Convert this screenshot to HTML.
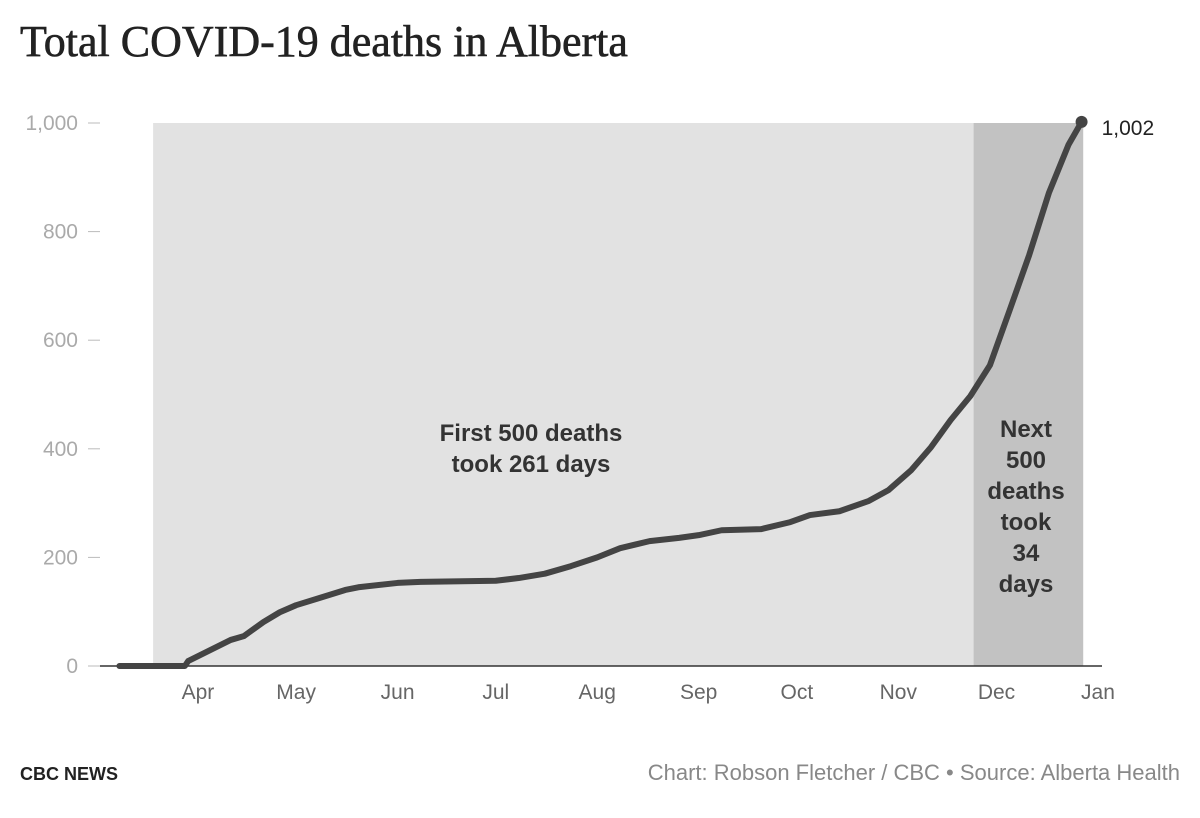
<!DOCTYPE html>
<html><head><meta charset="utf-8"><style>
body{margin:0;background:#fff;width:1200px;height:813px;overflow:hidden;font-family:"Liberation Sans",sans-serif}
</style></head><body>
<svg width="1200" height="813">
<text x="20" y="56" font-family="Liberation Serif, serif" font-size="44" fill="#222" stroke="#222" stroke-width="0.6">Total COVID-19 deaths in Alberta</text>
<g id="plot"></g>
<text x="20" y="780" font-size="18" font-weight="bold" fill="#222">CBC NEWS</text>
<text x="1180" y="780" font-size="22" fill="#888" text-anchor="end">Chart: Robson Fletcher / CBC • Source: Alberta Health</text>
</svg>
<script>
const days=[7,27,28,35,41,45,51,56,61,68,76,80,92,99,122,129,137,145,153,160,169,178,184,191,203,212,218,227,236,242,249,255,261,267,273,279,285,291,297,301];
const deaths=[0,0,9,30,48,55,81,99,112,125,140,145,153,155,157,162,170,184,200,217,230,236,241,250,252,265,278,285,304,324,361,403,453,497,554,655,757,871,960,1002];
const yTicks=[0,200,400,600,800,1000];
const yTickLabels=["0","200","400","600","800","1,000"];
const monthDays=[31,61,92,122,153,184,214,245,275,306];
const monthLabels=["Apr","May","Jun","Jul","Aug","Sep","Oct","Nov","Dec","Jan"];
const shadeFirst=[17.3,268];
const shadeNext=[268,301.5];
const NS="http://www.w3.org/2000/svg";
const xs=d=>96.5+d*3.2727;
const ys=v=>666-v*0.543;
const g=document.getElementById('plot');
function mk(t,a){const e=document.createElementNS(NS,t);for(const k in a)e.setAttribute(k,a[k]);g.appendChild(e);return e;}
let r=mk('rect',{x:xs(shadeFirst[0]),y:ys(1000),width:xs(shadeFirst[1])-xs(shadeFirst[0]),height:ys(0)-ys(1000),fill:'#e2e2e2'});


r=mk('rect',{x:xs(shadeNext[0]),y:ys(1000),width:xs(shadeNext[1])-xs(shadeNext[0]),height:ys(0)-ys(1000),fill:'#c2c2c2'});


yTicks.forEach((v,i)=>{
 const t=mk('text',{x:78,y:ys(v)+7,'font-size':21,fill:'#aaa','text-anchor':'end'});t.textContent=yTickLabels[i];
 
 
 const l=mk('line',{x1:88,x2:100,y1:ys(v),y2:ys(v),stroke:'#bbb','stroke-width':1});
 
 
});
monthDays.forEach((d,i)=>{
 const t=mk('text',{x:xs(d),y:699,'font-size':21,fill:'#666','text-anchor':'middle'});t.textContent=monthLabels[i];
 
 
});
const ax=mk('line',{x1:100,x2:1102,y1:666,y2:666,stroke:'#333','stroke-width':1.5});


const p=mk('path',{d:days.map((d,i)=>(i?'L':'M')+xs(d)+','+ys(deaths[i])).join(''),fill:'none',stroke:'#444','stroke-width':6,'stroke-linejoin':'round','stroke-linecap':'round'});


const n=days.length-1;
const c=mk('circle',{cx:xs(days[n]),cy:ys(deaths[n]),r:6,fill:'#444'});


const el=mk('text',{x:xs(days[n])+20,y:ys(deaths[n])+13,'font-size':21,fill:'#222'});el.textContent=deaths[n].toLocaleString('en-US');


function block(lines,x,y0,lh,name){lines.forEach((s,i)=>{const t=mk('text',{x:x,y:y0+i*lh,'font-size':24,'font-weight':'bold',fill:'#333','text-anchor':'middle'});t.textContent=s;
 
 });}
block(["First 500 deaths","took 261 days"],531,441,31,'first-500-annotation');
block(["Next","500","deaths","took","34","days"],1026,437,31,'next-500-annotation');
</script>
</body></html>
